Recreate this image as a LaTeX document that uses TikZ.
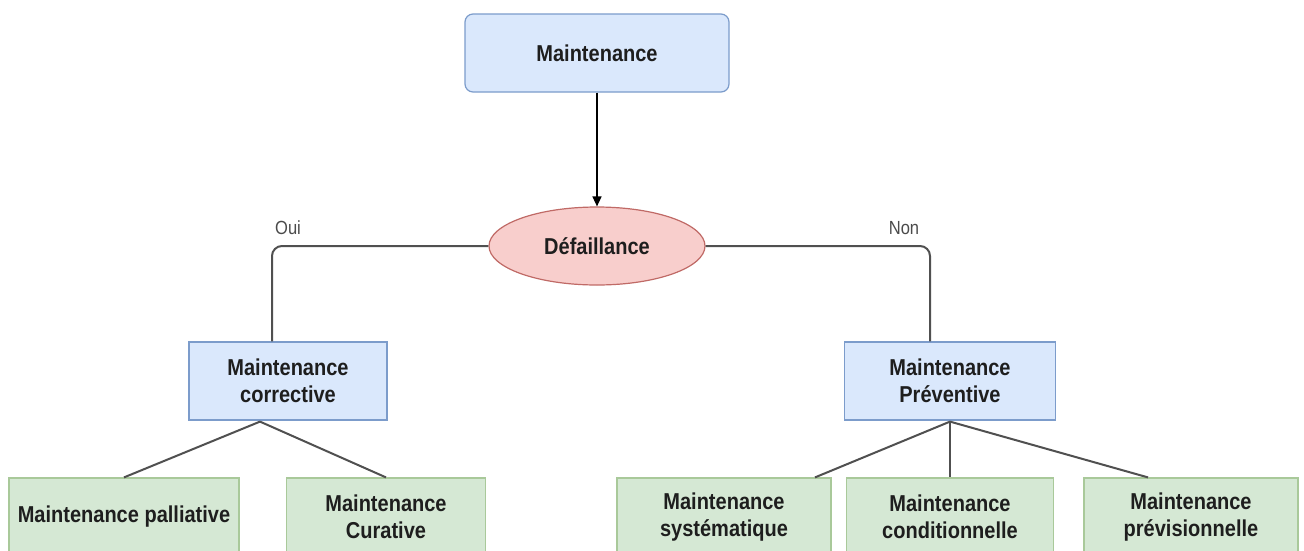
\documentclass[tikz,border=0pt]{standalone}
\usepackage{fontspec}
\setmainfont[FakeStretch=0.87]{Liberation Sans}
\usetikzlibrary{shapes.geometric,arrows.meta}
\definecolor{bluefill}{HTML}{DAE8FC}
\definecolor{bluedraw}{HTML}{7C9CCB}
\definecolor{redfill}{HTML}{F8CECC}
\definecolor{reddraw}{HTML}{C06A66}
\definecolor{greenfill}{HTML}{D5E8D4}
\definecolor{greendraw}{HTML}{A9C99A}
\definecolor{linegray}{HTML}{505050}
\definecolor{txt}{HTML}{1E1E1E}
\tikzset{
  lbl/.style={font=\fontsize{23}{27}\selectfont\bfseries, text=txt, align=center, inner sep=0pt},
  bluebox/.style={lbl, fill=bluefill, draw=bluedraw, line width=1.2pt, minimum height=78pt},
  greenbox/.style={lbl, fill=greenfill, draw=greendraw, line width=1.2pt, minimum height=78pt},
  redell/.style={lbl, ellipse, fill=redfill, draw=reddraw, line width=1.2pt, minimum width=216pt, minimum height=78pt},
  conn/.style={draw=linegray, line width=2pt},
  yn/.style={font=\fontsize{19}{22}\selectfont, text=txt!80, inner sep=0pt}
}
\begin{document}
\begin{tikzpicture}[x=1pt,y=-1pt]
\useasboundingbox (0,0) rectangle (1304,550);
\clip (0,0) rectangle (1304,550);
\fill[white] (0,0) rectangle (1304,550);

\node[bluebox, rounded corners=8pt, minimum width=264pt] (top) at (597,53) {Maintenance};
\node[redell] (def) at (597,246) {Défaillance};
\node[bluebox, minimum width=198pt] (corr) at (288,381) {Maintenance\\corrective};
\node[bluebox, minimum width=211pt] (prev) at (950,381) {Maintenance\\Préventive};

\node[greenbox, minimum width=230pt] (pal) at (124,517) {Maintenance palliative};
\node[greenbox, minimum width=199pt] (cur) at (386,517) {Maintenance\\Curative};
\node[greenbox, minimum width=214pt] (sys) at (724,517) {Maintenance\\systématique};
\node[greenbox, minimum width=207pt] (cond) at (950,517) {Maintenance\\conditionnelle};
\node[greenbox, minimum width=214pt] (previs) at (1191,517) {Maintenance\\prévisionnelle};

\node[yn] (oui) at (288,228) {Oui};
\node[yn] (non) at (904,228) {Non};

\draw[black, line width=1.5pt, -{Triangle[length=10pt,width=9pt]}] (top.south) -- (def.north);
\draw[conn, rounded corners=10pt] (def.west) -| ([xshift=-16pt]corr.north);
\draw[conn, rounded corners=10pt] (def.east) -| ([xshift=-20pt]prev.north);

\coordinate (ca) at ([xshift=-28pt,yshift=-1pt]corr.south);
\coordinate (pa) at ([yshift=-1pt]prev.south);
\draw[conn] (ca) -- (pal.north);
\draw[conn] (ca) -- (cur.north);
\draw[conn] (pa) -- ([xshift=91pt]sys.north);
\draw[conn] (pa) -- (cond.north);
\draw[conn] (pa) -- ([xshift=-43pt]previs.north);
\end{tikzpicture}
\end{document}
